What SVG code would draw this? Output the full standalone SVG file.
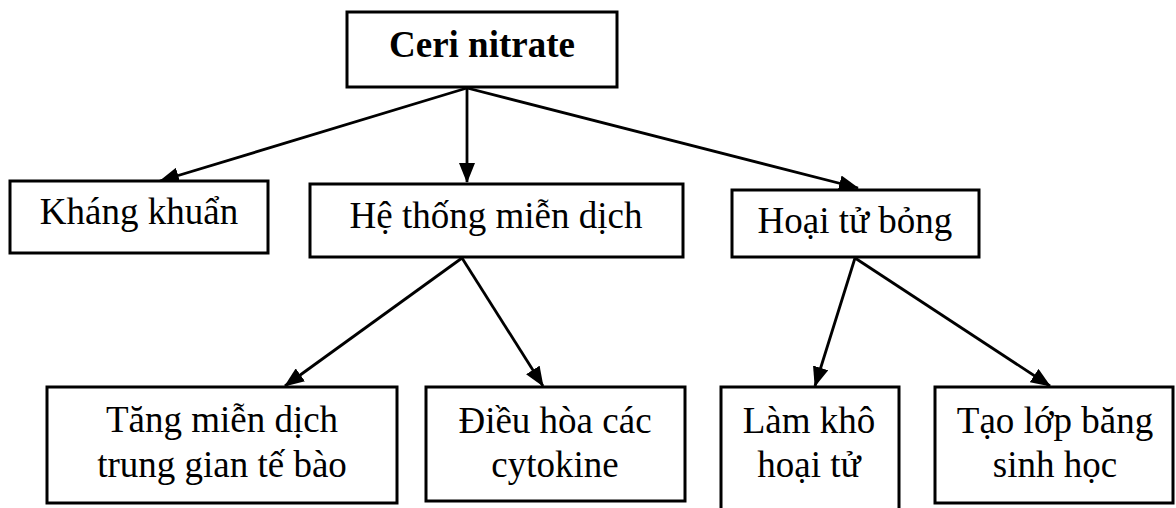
<svg xmlns="http://www.w3.org/2000/svg" width="1176" height="508" viewBox="0 0 1176 508">
<style>
.box{fill:#fff;stroke:#000;stroke-width:3}
.t{font-family:"Liberation Serif","Times New Roman",serif;font-size:37px;fill:#000;text-anchor:middle}
.b{font-weight:bold}
.c{stroke:#000;stroke-width:2.8;fill:none;marker-end:url(#ah)}
</style>
<defs>
<marker id="ah" markerUnits="userSpaceOnUse" markerWidth="20" markerHeight="16" viewBox="0 0 20 16" refX="19" refY="8" orient="auto">
<path d="M0,0 L20,8 L0,16 Z" fill="#000"/>
</marker>
</defs>
<rect width="1176" height="508" fill="#fff"/>
<g id="connectors">
<line class="c" x1="467" y1="88" x2="160" y2="181"/>
<line class="c" x1="467" y1="88" x2="467" y2="182"/>
<line class="c" x1="467" y1="88" x2="858" y2="188"/>
<line class="c" x1="462" y1="258" x2="285" y2="386"/>
<line class="c" x1="462" y1="258" x2="543" y2="386"/>
<line class="c" x1="855" y1="258" x2="815" y2="386"/>
<line class="c" x1="855" y1="258" x2="1050" y2="386"/>
</g>
<g id="ceri">
<rect class="box" x="347" y="12" width="270" height="75"/>
<text class="t b" x="482" y="57">Ceri nitrate</text>
</g>
<g id="khang">
<rect class="box" x="10" y="181" width="258" height="72"/>
<text class="t" x="139" y="224">Kháng khuẩn</text>
</g>
<g id="he">
<rect class="box" x="310" y="184" width="373" height="73"/>
<text class="t" x="496" y="228">Hệ thống miễn dịch</text>
</g>
<g id="hoai">
<rect class="box" x="732" y="190" width="247" height="67"/>
<text class="t" x="855" y="233">Hoại tử bỏng</text>
</g>
<g id="tang">
<rect class="box" x="47" y="387" width="350" height="116"/>
<text class="t" x="222" y="432">Tăng miễn dịch</text>
<text class="t" x="222" y="477">trung gian tế bào</text>
</g>
<g id="dieu">
<rect class="box" x="426" y="387" width="259" height="114"/>
<text class="t" x="555" y="433">Điều hòa các</text>
<text class="t" x="555" y="477">cytokine</text>
</g>
<g id="lam">
<rect class="box" x="721" y="387" width="178" height="130"/>
<text class="t" x="809" y="433">Làm khô</text>
<text class="t" x="809" y="477">hoại tử</text>
</g>
<g id="tao">
<rect class="box" x="935" y="387" width="238" height="116"/>
<text class="t" x="1055" y="433">Tạo lớp băng</text>
<text class="t" x="1055" y="477">sinh học</text>
</g>
</svg>
